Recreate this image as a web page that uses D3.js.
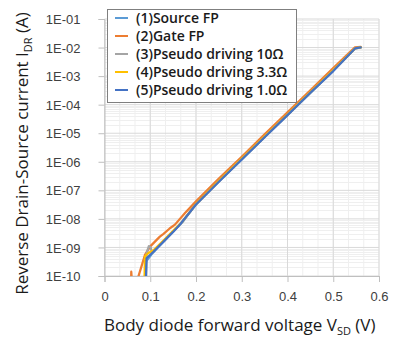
<!DOCTYPE html>
<html>
<head>
<meta charset="utf-8">
<script src="https://cdn.jsdelivr.net/npm/d3@7"></script>
<style>
  body { margin: 0; background: #fff; }
  svg { display: block; font-family: "Open Sans", "Noto Sans", sans-serif; }
</style>
</head>
<body>
<div id="chart"></div>
<script>
// Series data: V_SD (V) and I_DR (A)
const seriesNames = ['(1)Source FP', '(2)Gate FP', '(3)Pseudo driving 10\u03A9', '(4)Pseudo driving 3.3\u03A9', '(5)Pseudo driving 1.0\u03A9'];
const seriesColors = ['#5b9bd5', '#ed7d31', '#a5a5a5', '#ffc000', '#4472c4'];

const vSource = [0.088, 0.0885, 0.0907, 0.105, 0.13, 0.15, 0.17, 0.2, 0.25, 0.3, 0.35, 0.4, 0.45, 0.5, 0.5475, 0.56];
const iSource = [4.0e-11, 9.5e-11, 3.2e-10, 6.3e-10, 1.7e-9, 3.6e-9, 7.6e-9, 3.3e-8, 2.1e-7, 1.2e-6, 7.4e-6, 4.4e-5, 2.6e-4, 1.55e-3, 9.3e-3, 1.02e-2];

const vGate = [0.058, 0.0585, 0.061, 0.072, 0.074, 0.0885, 0.0995, 0.121, 0.129, 0.143, 0.154, 0.176, 0.2, 0.25, 0.3, 0.35, 0.4, 0.45, 0.5, 0.5475, 0.56];
const iGate = [4.0e-11, 1.41e-10, 4.0e-11, 4.0e-11, 9.5e-11, 5.5e-10, 1.07e-9, 2.4e-9, 3.0e-9, 4.7e-9, 6.3e-9, 1.6e-8, 4.1e-8, 2.6e-7, 1.5e-6, 9.1e-6, 5.4e-5, 3.2e-4, 1.9e-3, 1.02e-2, 1.05e-2];

const vPseudo10 = [0.0905, 0.092, 0.097, 0.101, 0.104, 0.11, 0.13, 0.15, 0.17, 0.2, 0.25, 0.3, 0.35, 0.4, 0.45, 0.5, 0.5475, 0.56];
const iPseudo10 = [4.0e-11, 6.3e-10, 1.12e-9, 1.0e-9, 6.3e-10, 8.3e-10, 1.7e-9, 3.7e-9, 7.9e-9, 3.3e-8, 2.1e-7, 1.26e-6, 7.6e-6, 4.5e-5, 2.7e-4, 1.6e-3, 9.3e-3, 1.02e-2];

const vPseudo33 = [0.087, 0.0885, 0.095, 0.107, 0.13, 0.15, 0.17, 0.2, 0.25, 0.3, 0.35, 0.4, 0.45, 0.5, 0.5475, 0.56];
const iPseudo33 = [4.0e-11, 4.8e-10, 6.3e-10, 7.9e-10, 1.8e-9, 3.8e-9, 7.9e-9, 3.3e-8, 2.1e-7, 1.26e-6, 7.6e-6, 4.5e-5, 2.7e-4, 1.6e-3, 9.3e-3, 1.02e-2];

const vPseudo10b = [0.0895, 0.0907, 0.092, 0.107, 0.129, 0.150, 0.165, 0.2, 0.25, 0.3, 0.35, 0.4, 0.45, 0.5, 0.5475, 0.56];
const iPseudo10b = [4.0e-11, 1.0e-10, 4.2e-10, 7.1e-10, 1.6e-9, 3.5e-9, 6.4e-9, 3.2e-8, 2.0e-7, 1.2e-6, 7.2e-6, 4.3e-5, 2.6e-4, 1.5e-3, 9.3e-3, 1.02e-2];

const xTicks = [0, 0.1, 0.2, 0.3, 0.4, 0.5, 0.6];
const yTicks = [1e-10, 1e-9, 1e-8, 1e-7, 1e-6, 1e-5, 1e-4, 1e-3, 1e-2, 1e-1];
const yTickLabels = ['1E-10', '1E-09', '1E-08', '1E-07', '1E-06', '1E-05', '1E-04', '1E-03', '1E-02', '1E-01'];

const allV = [vSource, vGate, vPseudo10, vPseudo33, vPseudo10b];
const allI = [iSource, iGate, iPseudo10, iPseudo33, iPseudo10b];

const W = 394, H = 338;
const margin = { top: 19, right: 15, bottom: 62, left: 104.5 };
const width = W - margin.left - margin.right;
const height = H - margin.top - margin.bottom;

const svg = d3.select('#chart').append('svg')
    .attr('width', W)
    .attr('height', H);

const g = svg.append('g')
    .attr('transform', `translate(${margin.left},${margin.top})`);

const x = d3.scaleLinear().domain([0, 0.6]).range([0, width]);
const y = d3.scaleLog().domain([1e-10, 1e-1]).range([height, 0]);

// minor grid
const xMinor = d3.range(0, 0.6001, 0.1 / 3);
g.append('g').selectAll('line')
    .data(xMinor)
    .enter().append('line')
    .attr('x1', d => x(d)).attr('x2', d => x(d))
    .attr('y1', 0).attr('y2', height)
    .attr('stroke', '#efefef').attr('stroke-width', 1);

const yMinor = [];
yTicks.slice(0, -1).forEach(t => { for (let k = 2; k <= 9; k++) yMinor.push(t * k); });
g.append('g').selectAll('line')
    .data(yMinor)
    .enter().append('line')
    .attr('x1', 0).attr('x2', width)
    .attr('y1', d => Math.round(y(d)) + 0.5).attr('y2', d => Math.round(y(d)) + 0.5)
    .attr('stroke', '#efefef').attr('stroke-width', 1);

// major grid
g.append('g').selectAll('line')
    .data(xTicks)
    .enter().append('line')
    .attr('x1', d => x(d)).attr('x2', d => x(d))
    .attr('y1', 0).attr('y2', height)
    .attr('stroke', '#d9d9d9').attr('stroke-width', 1);

g.append('g').selectAll('line')
    .data(yTicks)
    .enter().append('line')
    .attr('x1', 0).attr('x2', width)
    .attr('y1', d => y(d)).attr('y2', d => y(d))
    .attr('stroke', '#d9d9d9').attr('stroke-width', 1);

// axes
const xAxis = g.append('g')
    .attr('transform', `translate(0,${height})`)
    .call(d3.axisBottom(x).tickValues(xTicks).tickSize(6).tickPadding(10).tickFormat(d => d3.format('')(d)));
const yAxis = g.append('g')
    .call(d3.axisLeft(y).tickValues(yTicks).tickSize(6).tickPadding(18).tickFormat((d, i) => yTickLabels[i]));

[xAxis, yAxis].forEach(a => {
    a.select('.domain').attr('stroke', '#bfbfbf');
    a.selectAll('.tick line').attr('stroke', '#bfbfbf');
    a.selectAll('.tick text')
        .attr('fill', '#404040')
        .style('font-size', '13px');
});
yAxis.selectAll('.tick text').attr('dy', '0.35em');

// lines
g.append('clipPath').attr('id', 'plot-clip')
    .append('rect').attr('width', width).attr('height', height);

const line = d3.line()
    .x(d => x(d[0]))
    .y(d => y(d[1]));

const linesG = g.append('g').attr('clip-path', 'url(#plot-clip)');
allV.forEach((vs, k) => {
    linesG.append('path')
        .datum(vs.map((v, i) => [v, allI[k][i]]))
        .attr('d', line)
        .attr('fill', 'none')
        .attr('stroke', seriesColors[k])
        .attr('stroke-width', 2.25)
        .attr('stroke-linejoin', 'round')
        .attr('stroke-linecap', 'round');
});

// legend
const legend = svg.append('g').attr('transform', 'translate(107,9)');
legend.append('rect')
    .attr('x', 0.5).attr('y', 0.5)
    .attr('width', 189).attr('height', 93)
    .attr('fill', '#fff')
    .attr('stroke', '#7f7f7f')
    .attr('stroke-width', 1);
seriesNames.forEach((name, i) => {
    const ly = 9 + i * 18;
    legend.append('line')
        .attr('x1', 8).attr('x2', 21)
        .attr('y1', ly).attr('y2', ly)
        .attr('stroke', seriesColors[i])
        .attr('stroke-width', 2);
    legend.append('text')
        .attr('x', 29).attr('y', ly)
        .attr('dy', '0.35em')
        .style('font-size', '14px')
        .style('font-weight', 600)
        .attr('fill', '#1a1a1a')
        .text(name);
});

// axis titles
const yTitle = svg.append('text')
    .attr('transform', `translate(28,${margin.top + height / 2 + 6}) rotate(-90)`)
    .attr('text-anchor', 'middle')
    .style('font-size', '17px')
    .attr('fill', '#1a1a1a');
yTitle.append('tspan').text('Reverse Drain-Source current I');
yTitle.append('tspan').attr('dy', 4).style('font-size', '11px').text('DR');
yTitle.append('tspan').attr('dy', -4).text(' (A)');

const xTitle = svg.append('text')
    .attr('x', margin.left + width / 2 - 2)
    .attr('y', 331)
    .attr('text-anchor', 'middle')
    .style('font-size', '17px')
    .attr('fill', '#1a1a1a');
xTitle.append('tspan').text('Body diode forward voltage V');
xTitle.append('tspan').attr('dy', 4).style('font-size', '11px').text('SD');
xTitle.append('tspan').attr('dy', -4).text(' (V)');
</script>
</body>
</html>
